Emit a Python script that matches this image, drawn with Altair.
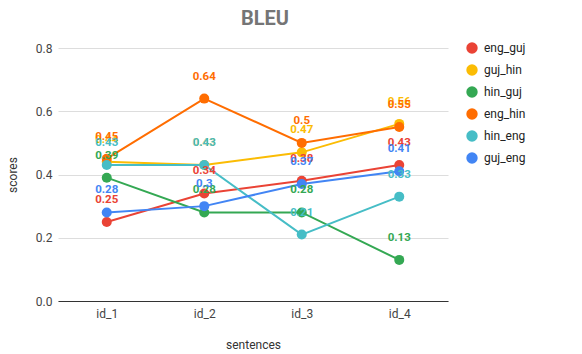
import altair as alt
import pandas as pd

# Sentence ids on the x axis
sentences = ["id_1", "id_2", "id_3", "id_4"]

# Language pairs, in legend order
pairs = ["eng_guj", "guj_hin", "hin_guj", "eng_hin", "hin_eng", "guj_eng"]
pair_colors = ["#ea4335", "#fbbc04", "#34a853", "#ff6d01", "#46bdc6", "#4285f4"]

# BLEU scores per language pair
eng_guj = [0.25, 0.34, 0.38, 0.43]
guj_hin = [0.44, 0.43, 0.47, 0.56]
hin_guj = [0.39, 0.28, 0.28, 0.13]
eng_hin = [0.45, 0.64, 0.50, 0.55]
hin_eng = [0.43, 0.43, 0.21, 0.33]
guj_eng = [0.28, 0.30, 0.37, 0.41]

series = [eng_guj, guj_hin, hin_guj, eng_hin, hin_eng, guj_eng]

rows = []
for order, (pair, values) in enumerate(zip(pairs, series)):
    for s, v in zip(sentences, values):
        rows.append({"pair": pair, "sentence": s, "score": v, "order": order})
df = pd.DataFrame(rows)

FONT = "Roboto"

x = alt.X(
    "sentence:N",
    sort=sentences,
    scale=alt.Scale(type="point", padding=0.5),
    axis=alt.Axis(
        title="sentences",
        labelAngle=0,
        labelFontSize=12,
        labelColor="#444444",
        labelPadding=7,
        ticks=False,
        domainColor="#333333",
        grid=False,
        titleFontSize=12,
        titleFontWeight="normal",
        titleColor="#333333",
        titleY=43,
        titleBaseline="middle",
    ),
)
y = alt.Y(
    "score:Q",
    scale=alt.Scale(domain=[0, 0.8]),
    axis=alt.Axis(
        title="scores",
        values=[0, 0.2, 0.4, 0.6, 0.8],
        labelFontSize=12,
        labelColor="#444444",
        labelPadding=6,
        ticks=False,
        domain=False,
        gridColor="#dddddd",
        titleFontSize=12,
        titleFontWeight="normal",
        titleColor="#333333",
        titleX=-46,
        titleBaseline="middle",
    ),
)
color = alt.Color(
    "pair:N",
    scale=alt.Scale(domain=pairs, range=pair_colors),
    legend=alt.Legend(
        title=None,
        orient="none",
        legendX=408,
        legendY=-6,
        symbolType="circle",
        symbolSize=130,
        symbolStrokeWidth=0,
        labelFontSize=12,
        labelColor="#222222",
        labelFont=FONT,
        rowPadding=10,
        labelOffset=6,
    ),
)

base = alt.Chart(df)

lines = base.mark_line(strokeWidth=2).encode(
    x=x, y=y, color=color, order="order:Q", detail="pair:N"
)
points = base.mark_circle(size=100, opacity=1).encode(
    x=x, y=y, color=color, order="order:Q"
)
labels = base.mark_text(
    dy=-22, fontSize=11.5, fontWeight="bold", baseline="middle", font=FONT
).encode(
    x=x,
    y=y,
    text=alt.Text("score:Q", format=".2~f"),
    color=alt.Color("pair:N", scale=alt.Scale(domain=pairs, range=pair_colors), legend=None),
    order="order:Q",
)

chart = (
    alt.layer(lines, points, labels)
    .properties(
        width=390,
        height=253,
        padding={"left": 58, "top": 48, "right": 134, "bottom": 53},
        autosize=alt.AutoSizeParams(type="none"),
        title=alt.TitleParams(
            "BLEU",
            fontSize=20,
            fontWeight="bold",
            color="#757575",
            font=FONT,
            dx=12,
            offset=13,
        ),
    )
    .configure(font=FONT)
    .configure_view(stroke=None)
)

chart.save("out.html", embed_options={"renderer": "svg", "actions": False})
